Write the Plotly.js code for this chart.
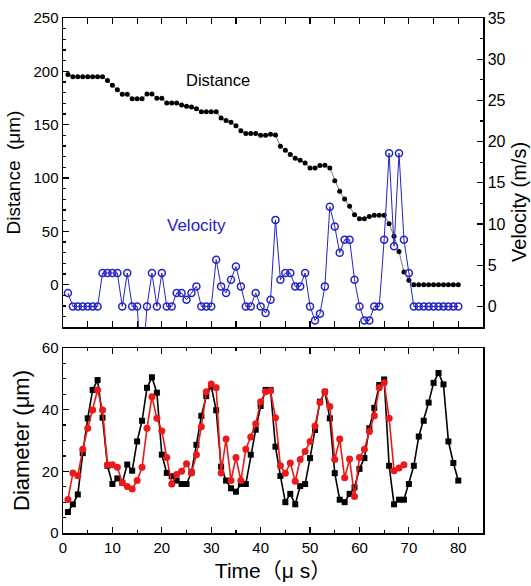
<!DOCTYPE html>
<html>
<head>
<meta charset="utf-8">
<script src="https://cdn.plot.ly/plotly-3.0.1.min.js"></script>
<style>html,body{margin:0;padding:0;background:#fff;}#chart{width:531px;height:586px;}</style>
</head>
<body>
<div id="chart"></div>
<script>
// time in microseconds
const timeTop = Array.from({length: 80}, (_, i) => i + 1);
const distance = [197,195,195,195,195,195,195,195,191.3,187,182.8,178.4,178.4,174.4,174.4,174.4,178.8,178.8,174.7,174.7,
  170.3,170.3,170.3,168.4,167.2,166.6,165,162.2,162.2,162.2,162.2,156.3,154,152.2,149,144.4,141.6,141.6,141.6,140,
  140,140.9,140.3,129.7,125.9,122,118.5,116.6,114,109.4,109.4,111.6,111.9,109.4,97.5,87.5,80.3,73.4,65.6,61.9,
  61.9,64,65,65,65,57.2,45.3,31.2,11.9,4.1,0,0,0,0,0,0,0,0,0,0];
const velocity = [1.63,0,0,0,0,0,0,4.05,4.05,4.05,4.05,0,4.05,0,0,-8,0,4.05,0,4.05,
  0,0,1.63,1.63,0.81,1.63,2.43,0,0,0,5.67,2.43,1.63,3.24,4.85,2.43,0,0,1.63,0,
  -0.81,0.81,10.5,3.24,4.05,4.05,2.43,2.43,4.05,0,-1.7,-0.89,2.43,12.1,9.7,6.5,8.1,8.1,3.24,0,
  -1.7,-1.7,0,0,8.1,18.6,7.3,18.6,8.1,4.05,0,0,0,0,0,0,0,0,0,0];
const timeBlack = Array.from({length: 80}, (_, i) => i + 1);
const diameterBlack = [6.8,9.3,12.5,25.9,37.2,46.4,49.6,37.4,21.8,15.9,17.7,16.3,22.2,20.2,29.7,36.4,47.1,50.5,45.5,25.4,
  19.5,18.4,17,15.9,15.9,19.7,28.6,38,44.4,47.6,39.8,21.5,17,14.5,13.4,15.9,15.9,25.4,33.5,41.2,
  46.4,46.4,28,18.5,10,12.7,9.3,15.2,15.9,24.3,33.4,42.6,45.8,37.2,19.4,10.8,10,12.7,14.8,20.8,
  24.3,34,40.6,48,49.8,21.8,9.3,10.8,10.8,15.9,21.8,31.3,36.4,42.3,48.7,51.9,48.2,29.7,22.7,17];
const timeRed = Array.from({length: 69}, (_, i) => i + 1);
const diameterRed = [10.9,19.5,18.6,27.2,34,39.9,46.4,39.9,22.1,22.1,21.3,16.3,15.1,14.3,17,21.3,34,44.2,37.2,33.1,
  24.5,15.9,19,20,22.5,19.5,25.4,34.5,45.8,48.3,47.1,19.5,30.5,17,24.5,17,27.2,31.1,35.4,42.6,
  45.8,46.1,37.4,21.8,19.4,22.7,16.8,23.8,26.4,29.7,34.7,42.3,45.8,41,23.8,30.5,17.9,24,11.8,24.5,
  27.2,32.9,38,47.1,48.7,37.2,20.2,21.1,22.1];

const BLUE = 'rgb(35,35,200)';
const RED = 'rgb(235,25,25)';
const FONT = 'Liberation Sans, Arial, sans-serif';

const traces = [
  {x: timeTop, y: distance, xaxis: 'x2', yaxis: 'y', mode: 'lines+markers',
   line: {color: '#555', width: 0.8}, marker: {color: '#000', size: 5, symbol: 'circle'}},
  {x: timeTop, y: velocity, xaxis: 'x2', yaxis: 'y2', mode: 'lines+markers',
   line: {color: BLUE, width: 1}, marker: {color: BLUE, size: 7, symbol: 'circle-open', line: {width: 1.5, color: BLUE}}},
  {x: timeBlack, y: diameterBlack, xaxis: 'x', yaxis: 'y3', mode: 'lines+markers',
   line: {color: '#000', width: 1.6}, marker: {color: '#000', size: 6, symbol: 'square'}},
  {x: timeRed, y: diameterRed, xaxis: 'x', yaxis: 'y3', mode: 'lines+markers',
   line: {color: RED, width: 1.6}, marker: {color: RED, size: 7, symbol: 'circle'}}
];

const axBase = {showgrid: false, zeroline: false, showline: true, linecolor: '#000', linewidth: 1.5,
  ticks: 'inside', ticklen: 6, tickwidth: 1.2, tickcolor: '#000',
  tickfont: {family: FONT, size: 15, color: '#000'}};

const layout = {
  width: 531, height: 586, showlegend: false,
  paper_bgcolor: '#fff', plot_bgcolor: '#fff',
  margin: {l: 63, r: 48, t: 18, b: 53},
  font: {family: FONT, color: '#000'},
  xaxis: Object.assign({}, axBase, {domain: [0, 1], anchor: 'y3', range: [0, 85], dtick: 10, tick0: 0,
    mirror: 'allticks', minor: {dtick: 5, ticklen: 3, ticks: 'inside', tickcolor: '#000'},
    title: {text: 'Time（μ s）', font: {family: 'Liberation Sans, Noto Sans CJK JP, sans-serif', size: 21}, standoff: 9}}),
  xaxis2: Object.assign({}, axBase, {domain: [0, 1], anchor: 'y', range: [0, 85], dtick: 10, tick0: 0,
    showticklabels: false, mirror: 'allticks', minor: {dtick: 5, ticklen: 3, ticks: 'inside', tickcolor: '#000'}}),
  yaxis: Object.assign({}, axBase, {domain: [0.4, 1], anchor: 'x2', range: [-39.7, 250], dtick: 50, tick0: 0,
    minor: {dtick: 10, ticklen: 3, ticks: 'inside', tickcolor: '#000'},
    title: {text: 'Distance  (μm)', font: {family: FONT, size: 19}, standoff: 8}}),
  yaxis2: Object.assign({}, axBase, {overlaying: 'y', side: 'right', anchor: 'x2', range: [-2.5, 35], dtick: 5, tick0: 0,
    minor: {dtick: 2.5, ticklen: 3, ticks: 'inside', tickcolor: '#000'},
    tickfont: {family: FONT, size: 16, color: '#000'}}),
  yaxis3: Object.assign({}, axBase, {domain: [0, 0.3592], anchor: 'x', range: [0, 60], dtick: 20, tick0: 0,
    mirror: true, minor: {dtick: 5, ticklen: 3, ticks: 'inside', tickcolor: '#000'},
    title: {text: 'Diameter (μm)', font: {family: FONT, size: 22}, standoff: 6}}),
  annotations: [
    {text: 'Distance', xref: 'x2', yref: 'y', x: 31.4, y: 191.5, showarrow: false,
     font: {family: FONT, size: 16.5, color: '#000'}},
    {text: 'Velocity', xref: 'x2', yref: 'y', x: 27.0, y: 55.3, showarrow: false,
     font: {family: FONT, size: 17, color: BLUE}},
    {text: 'Velocity (m/s)', xref: 'paper', yref: 'paper', x: 1.086, y: 0.643, xanchor: 'center', yanchor: 'middle',
     textangle: -90, showarrow: false, font: {family: FONT, size: 20, color: '#000'}}
  ]
};

Plotly.newPlot('chart', traces, layout, {staticPlot: true, displayModeBar: false});
</script>
</body>
</html>
